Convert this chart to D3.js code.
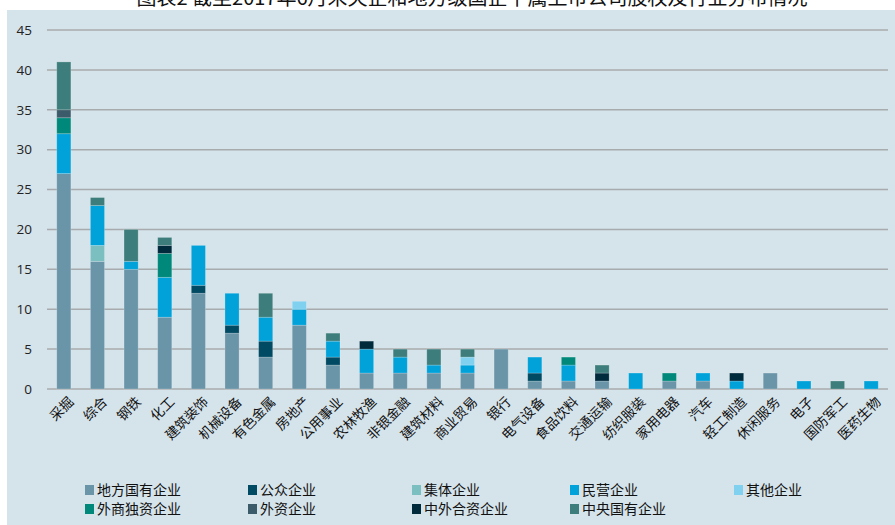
<!DOCTYPE html>
<html>
<head>
<meta charset="utf-8">
<script src="https://cdn.jsdelivr.net/npm/d3@7"></script>
<style>
  body { margin: 0; background: #fff; }
  svg { display: block; }
</style>
</head>
<body>
<div id="chart"></div>
<script>
var w = 895;
var h = 525;
var margin = {top: 30, right: 7, bottom: 136, left: 47};

var categories = ["采掘", "综合", "钢铁", "化工", "建筑装饰", "机械设备", "有色金属", "房地产", "公用事业",
  "农林牧渔", "非银金融", "建筑材料", "商业贸易", "银行", "电气设备", "食品饮料", "交通运输", "纺织服装",
  "家用电器", "汽车", "轻工制造", "休闲服务", "电子", "国防军工", "医药生物"];

var seriesNames = ["地方国有企业", "公众企业", "集体企业", "民营企业", "其他企业",
  "外商独资企业", "外资企业", "中外合资企业", "中央国有企业"];
var colors = ["#6a95a8", "#004a63", "#7bbfc0", "#00a2d9", "#80d0f0",
  "#00897a", "#3b5a6a", "#002b3d", "#3d7e7c"];

// one array per series, in category order
var local     = [27, 16, 15, 9, 12, 7, 4, 8, 3, 2, 2, 2, 2, 5, 1, 1, 1, 0, 1, 1, 0, 2, 0, 0, 0];
var publicCo  = [0, 0, 0, 0, 1, 1, 2, 0, 1, 0, 0, 0, 0, 0, 1, 0, 0, 0, 0, 0, 0, 0, 0, 0, 0];
var collective= [0, 2, 0, 0, 0, 0, 0, 0, 0, 0, 0, 0, 0, 0, 0, 0, 0, 0, 0, 0, 0, 0, 0, 0, 0];
var privateCo = [5, 5, 1, 5, 5, 4, 3, 2, 2, 3, 2, 1, 1, 0, 2, 2, 0, 2, 0, 1, 1, 0, 1, 0, 1];
var other     = [0, 0, 0, 0, 0, 0, 0, 1, 0, 0, 0, 0, 1, 0, 0, 0, 0, 0, 0, 0, 0, 0, 0, 0, 0];
var wfoe      = [2, 0, 0, 3, 0, 0, 0, 0, 0, 0, 0, 0, 0, 0, 0, 1, 0, 0, 1, 0, 0, 0, 0, 0, 0];
var foreign   = [1, 0, 0, 0, 0, 0, 0, 0, 0, 0, 0, 0, 0, 0, 0, 0, 0, 0, 0, 0, 0, 0, 0, 0, 0];
var jointVent = [0, 0, 0, 1, 0, 0, 0, 0, 0, 1, 0, 0, 0, 0, 0, 0, 1, 0, 0, 0, 1, 0, 0, 0, 0];
var central   = [6, 1, 4, 1, 0, 0, 3, 0, 1, 0, 1, 2, 1, 0, 0, 0, 1, 0, 0, 0, 0, 0, 0, 1, 0];

var yTicks = [0, 5, 10, 15, 20, 25, 30, 35, 40, 45];

var seriesValues = [local, publicCo, collective, privateCo, other, wfoe, foreign, jointVent, central];

var data = categories.map(function(c, i) {
  var row = {cat: c};
  seriesNames.forEach(function(s, j) { row[s] = seriesValues[j][i]; });
  return row;
});

var svg = d3.select("#chart").append("svg")
  .attr("width", w)
  .attr("height", h);

// panel background
svg.append("rect")
  .attr("x", 7).attr("y", 10)
  .attr("width", w - 7).attr("height", h - 10)
  .attr("fill", "#d5e3ea");

// title, cut off at the top as in the source
svg.append("text")
  .attr("x", 472).attr("y", 5)
  .attr("text-anchor", "middle")
  .attr("font-family", "Noto Sans CJK SC")
  .attr("font-size", "20px")
  .attr("fill", "#111")
  .text("图表2  截至2017年6月末央企和地方级国企下属上市公司股权及行业分布情况");

var xScale = d3.scaleBand()
  .domain(categories)
  .range([margin.left, w - margin.right])
  .paddingInner(0.58)
  .paddingOuter(0.29);

var yScale = d3.scaleLinear()
  .domain([0, 45])
  .range([h - margin.bottom, margin.top]);

// grid lines
svg.append("g")
  .selectAll("line")
  .data(yTicks)
  .enter()
  .append("line")
  .attr("x1", margin.left)
  .attr("x2", w - margin.right)
  .attr("y1", function(d) { return yScale(d); })
  .attr("y2", function(d) { return yScale(d); })
  .attr("stroke", "#a8abad")
  .attr("stroke-width", 1.5);

var yAxis = d3.axisLeft(yScale).tickValues(yTicks).tickSize(0).tickPadding(15);
var gy = svg.append("g")
  .attr("transform", "translate(" + margin.left + ",0)")
  .call(yAxis);
gy.select(".domain").remove();
gy.selectAll("text")
  .attr("font-family", "Open Sans")
  .attr("font-size", "13.5px")
  .attr("fill", "#222");

var stack = d3.stack().keys(seriesNames);
var layers = stack(data);

svg.append("g")
  .selectAll("g")
  .data(layers)
  .enter()
  .append("g")
  .attr("fill", function(d, i) { return colors[i]; })
  .selectAll("rect")
  .data(function(d) { return d.filter(function(p) { return p[1] > p[0]; }); })
  .enter()
  .append("rect")
  .attr("x", function(d) { return xScale(d.data.cat); })
  .attr("y", function(d) { return yScale(d[1]); })
  .attr("width", xScale.bandwidth())
  .attr("height", function(d) { return yScale(d[0]) - yScale(d[1]); })
  .attr("stroke", "rgba(255,255,255,0.25)")
  .attr("stroke-width", 0.8);

// category labels, rotated
var xAxis = d3.axisBottom(xScale).tickSize(0).tickPadding(0);
var gx = svg.append("g")
  .attr("transform", "translate(0," + (yScale(0) + 8) + ")")
  .call(xAxis);
gx.select(".domain").remove();
gx.selectAll("text")
  .attr("font-family", "Noto Sans CJK SC")
  .attr("font-size", "13.5px")
  .attr("fill", "#111")
  .attr("text-anchor", "end")
  .attr("dy", "0.7em")
  .attr("transform", "translate(4,-1) rotate(-45)");

// legend
var legX = [85, 248, 412, 570, 734];
var legend = svg.append("g")
  .selectAll("g")
  .data(seriesNames)
  .enter()
  .append("g")
  .attr("transform", function(d, i) {
    return "translate(" + legX[i % 5] + "," + (490 + Math.floor(i / 5) * 19) + ")";
  });
legend.append("rect")
  .attr("x", 0).attr("y", -5)
  .attr("width", 9).attr("height", 10)
  .attr("fill", function(d, i) { return colors[i]; });
legend.append("text")
  .attr("x", 12).attr("y", 0)
  .attr("dy", "0.36em")
  .attr("font-family", "Noto Sans CJK SC")
  .attr("font-size", "14px")
  .attr("fill", "#111")
  .text(function(d) { return d; });
</script>
</body>
</html>
